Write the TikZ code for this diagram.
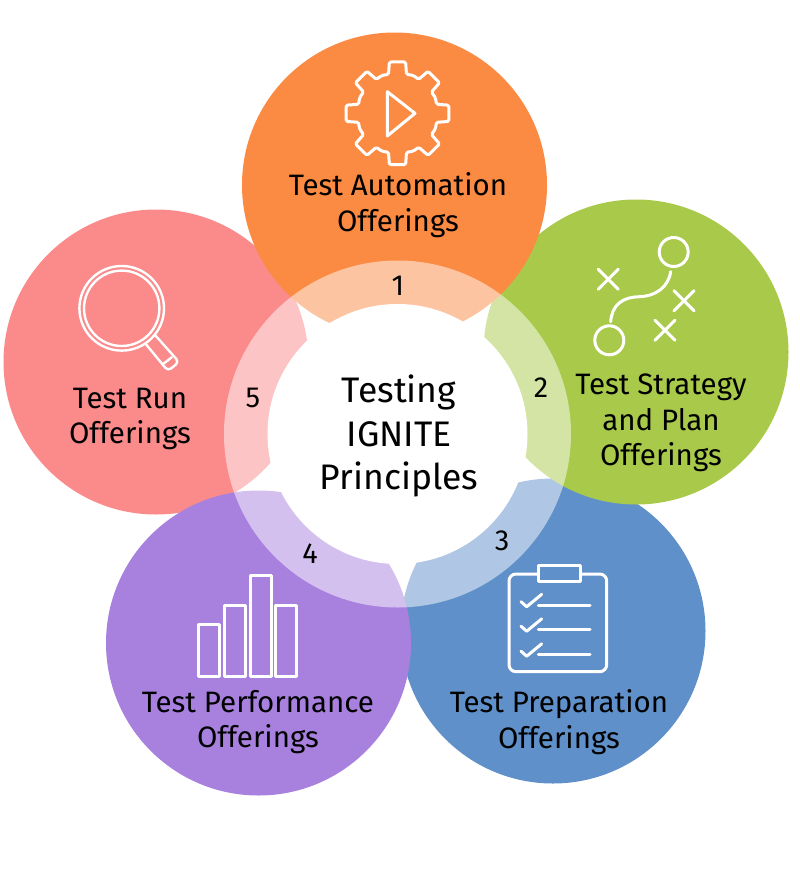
\documentclass[tikz,border=0pt]{standalone}
\usepackage{fontspec}
\setmainfont{Fira Sans}
\usetikzlibrary{calc}
\definecolor{petalorange}{HTML}{FB8A43}
\definecolor{petalgreen}{HTML}{A9C94B}
\definecolor{petalblue}{HTML}{5F90C9}
\definecolor{petalpurple}{HTML}{A881DF}
\definecolor{petalred}{HTML}{FB8A8B}
\tikzset{
  petal/.style={circle,minimum size=305pt,inner sep=0pt},
  label text/.style={align=center,font=\fontsize{29.5}{35.7}\selectfont,text=black,inner sep=0pt},
  step num/.style={font=\fontsize{29}{32}\selectfont,text=black,inner sep=0pt},
  icon/.style={draw=white,line width=3pt,line cap=round,line join=round},
}
\begin{document}
\begin{tikzpicture}[x=1pt,y=-1pt]
    \useasboundingbox (0,0) rectangle (800,870);
    % Petals
    \node[petal,fill=petalblue] (prep) at (553,631) {};
    \node[petal,fill=petalgreen] (strategy) at (636,352) {};
    \node[petal,fill=petalred] (run) at (156,362) {};
    \node[petal,fill=petalorange] (auto) at (394.5,185) {};
    \node[petal,fill=petalpurple] (perf) at (258.5,643) {};

    % Ring and centre
    \node[circle,minimum size=347pt,inner sep=0pt,fill=white,fill opacity=0.5] (ring) at (397.5,434) {};
    \node[circle,minimum size=260pt,inner sep=0pt,fill=white] (hub) at (397.5,434) {};
    \node[align=center,font=\fontsize{35.5}{43.3}\selectfont,inner sep=0pt] (title) at (399,436) {Testing\\IGNITE\\Principles};

    % Numbers
    \node[step num] (n1) at (398,286) {1};
    \node[step num] (n2) at (541,388) {2};
    \node[step num] (n3) at (502,541) {3};
    \node[step num] (n4) at (310,554) {4};
    \node[step num] (n5) at (253,398) {5};

    % Labels
    \node[label text] (autotext) at (398,205) {Test Automation\\Offerings};
    \node[label text] (strategytext) at (661,423) {Test Strategy\\and Plan\\Offerings};
    \node[label text] (preptext) at (559,722) {Test Preparation\\Offerings};
    \node[label text] (perftext) at (258,722) {Test Performance\\Offerings};
    \node[label text] (runtext) at (130,419) {Test Run\\Offerings};

    % Gear icon
    \draw[icon,rounded corners=1.5pt] ($(397.5,113.3)+(-13:40)$)
      \foreach \a in {0,45,...,315} {
        -- ($(397.5,113.3)+(\a-13:40)$) -- ($(397.5,113.3)+(\a-9:52)$)
        -- ($(397.5,113.3)+(\a+9:52)$) -- ($(397.5,113.3)+(\a+13:40)$)
        -- ($(397.5,113.3)+(\a+22.5:41)$)
      } -- cycle;
    \draw[icon] (387.3,91.7) -- (415,113.3) -- (387.3,136) -- cycle;

    % Strategy icon
    \draw[icon] (673.7,252) circle (14.5);
    \draw[icon] (609.3,340.3) circle (14.5);
    \draw[icon] (670.7,271.7) .. controls (668,288) and (655,296) .. (640,296.7)
      .. controls (622,297) and (612,305) .. (610.7,321.7);
    \foreach \x/\y in {608.3/279.3,684/300.7,665/330.3} {
      \draw[icon] (\x-10,\y-10) -- (\x+10,\y+10) (\x-10,\y+10) -- (\x+10,\y-10);
    }

    % Checklist icon
    \draw[icon,rounded corners=7pt] (509,574) rectangle (606.7,671.7);
    \draw[icon,fill=petalblue] (538.3,565) rectangle (580,581.7);
    \foreach \y in {0,24.5,49.5} {
      \draw[icon] (521,601.7+\y) -- (526.7,606.7+\y) -- (541.7,594.3+\y);
      \draw[icon] (538.3,605+\y) -- (590,605+\y);
    }

    % Bars icon
    \draw[icon] (198.3,624.3) rectangle (219.3,676);
    \draw[icon] (224.3,605) rectangle (245.7,676);
    \draw[icon] (250,575.7) rectangle (271.7,676);
    \draw[icon] (275,605.7) rectangle (296.7,676);

    % Magnifier icon
    \draw[icon,line width=2.4pt] (121.7,308.3) circle (42.3);
    \draw[icon,line width=2.4pt] (121.7,308.3) circle (37.7);
    \draw[icon,line width=2.4pt,rounded corners=4pt] (146,344.3) -- (168,371) -- (179,362) -- (155,335);
    \draw[icon,line width=2.4pt] (164,363.3) -- (171.7,357.3);
\end{tikzpicture}
\end{document}
